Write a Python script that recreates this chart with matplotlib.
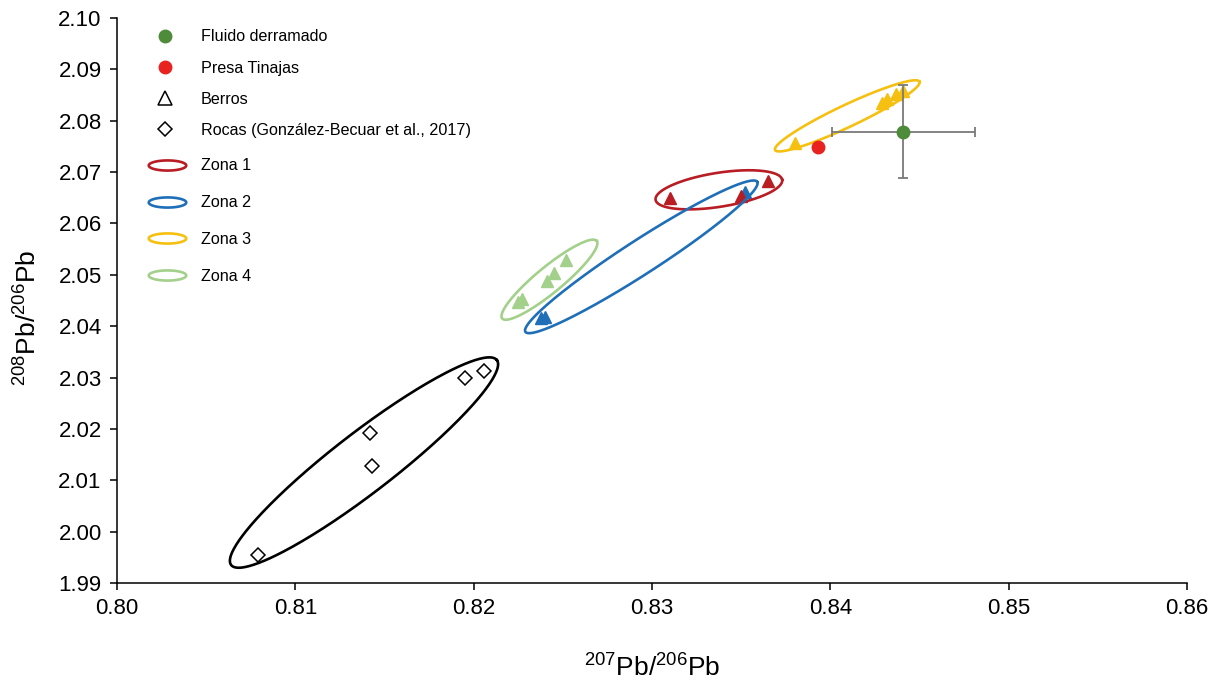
import numpy as np
import matplotlib
matplotlib.use("Agg")
import matplotlib.pyplot as plt
from matplotlib.path import Path
from matplotlib.lines import Line2D

plt.rcParams['font.family'] = ['Liberation Sans', 'DejaVu Sans']
plt.rcParams['mathtext.fontset'] = 'custom'
plt.rcParams['mathtext.rm'] = 'Liberation Sans'
plt.rcParams['mathtext.it'] = 'Liberation Sans:italic'
plt.rcParams['mathtext.default'] = 'regular'

# ---------------- data ----------------
rocas_x = [0.8079, 0.8142, 0.8143, 0.8195, 0.8206]
rocas_y = [1.9955, 2.0192, 2.0128, 2.0299, 2.0313]

zona1_x = [0.8310, 0.8350, 0.8365]
zona1_y = [2.0649, 2.0653, 2.0683]

zona2_x = [0.8238, 0.8240, 0.8352]
zona2_y = [2.0415, 2.0418, 2.0662]

zona3_x = [0.8380, 0.8429, 0.8432, 0.8437, 0.8441]
zona3_y = [2.0757, 2.0834, 2.0842, 2.0853, 2.0858]

zona4_x = [0.8225, 0.8227, 0.8241, 0.8245, 0.8252]
zona4_y = [2.0448, 2.0452, 2.0487, 2.0503, 2.0529]

fluido_x = [0.8441]
fluido_y = [2.0779]
fluido_xerr = [0.0040]
fluido_yerr = [0.0091]

presa_x = [0.8393]
presa_y = [2.0748]

# ellipse outlines: long-axis end points (data units) and half-width (pixels)
ell_rocas = [(0.8064, 1.9935), (0.8213, 2.0334)]
ell_z1 = [(0.8302, 2.0646), (0.8373, 2.0685)]
ell_z2 = [(0.8229, 2.0389), (0.8359, 2.0681)]
ell_z3 = [(0.8369, 2.0743), (0.8450, 2.0876)]
ell_z4 = [(0.8216, 2.0415), (0.8269, 2.0566)]
ell_halfwidth = {'rocas': 30, 'z1': 17, 'z2': 17, 'z3': 11, 'z4': 13}

xticks = [0.80, 0.81, 0.82, 0.83, 0.84, 0.85, 0.86]
yticks = [1.99, 2.00, 2.01, 2.02, 2.03, 2.04, 2.05, 2.06, 2.07, 2.08, 2.09, 2.10]

c_green_dark = '#4e8b3a'
c_red = '#e8231f'
c_z1 = '#b81d24'
c_z2 = '#1f6fb8'
c_z3 = '#f5c010'
c_z4 = '#a3d08b'

# ---------------- figure ----------------
fig = plt.figure(figsize=(12.19, 6.81), dpi=100)
ax = fig.add_axes([117 / 1219, 1 - 583 / 681, (1187 - 117) / 1219, (583 - 18) / 681])
ax.set_xlim(0.80, 0.86)
ax.set_ylim(1.99, 2.10)
ax.set_xticks(xticks)
ax.set_yticks(yticks)
ax.set_xticklabels([f"{v:.2f}" for v in xticks])
ax.set_yticklabels([f"{v:.2f}" for v in yticks])
for s in ['top', 'right']:
    ax.spines[s].set_visible(False)
for s in ['left', 'bottom']:
    ax.spines[s].set_linewidth(1.1)
ax.tick_params(direction='out', length=5, width=1.1, labelsize=16, pad=6)


def draw_ellipse(p1, p2, b_px, color, lw=1.9):
    T = ax.transData
    d1 = T.transform(p1)
    d2 = T.transform(p2)
    c = (d1 + d2) / 2
    u = (d2 - d1) / 2
    a = np.hypot(*u)
    u = u / a
    v = np.array([-u[1], u[0]])
    b = b_px * fig.dpi / 100
    t = np.linspace(0, 2 * np.pi, 300)
    pts = c + np.outer(a * np.cos(t), u) + np.outer(b * np.sin(t), v)
    dat = T.inverted().transform(pts)
    ax.plot(dat[:, 0], dat[:, 1], color=color, lw=lw, zorder=3)


ms_tri = 9
ax.plot(zona4_x, zona4_y, '^', color=c_z4, ms=ms_tri, ls='none', zorder=2)
ax.plot(zona2_x, zona2_y, '^', color=c_z2, ms=ms_tri, ls='none', zorder=2)
ax.plot(zona1_x, zona1_y, '^', color=c_z1, ms=ms_tri, ls='none', zorder=2)
ax.plot(zona3_x, zona3_y, '^', color=c_z3, ms=ms_tri, ls='none', zorder=2)
ax.plot(rocas_x, rocas_y, 'D', mfc='white', mec='black', mew=1.1, ms=7, ls='none', zorder=2)
ax.plot(presa_x, presa_y, 'o', color=c_red, ms=9, ls='none', zorder=4)
ax.errorbar(fluido_x, fluido_y, xerr=fluido_xerr, yerr=fluido_yerr, fmt='o',
            color=c_green_dark, ms=9, ecolor='#7a7a7a', elinewidth=1.3,
            capsize=3.5, capthick=1.3, zorder=4)

draw_ellipse(*ell_rocas, ell_halfwidth['rocas'], 'black')
draw_ellipse(*ell_z1, ell_halfwidth['z1'], c_z1)
draw_ellipse(*ell_z2, ell_halfwidth['z2'], c_z2)
draw_ellipse(*ell_z3, ell_halfwidth['z3'], c_z3)
draw_ellipse(*ell_z4, ell_halfwidth['z4'], c_z4)

ax.set_xlabel('$^{207}$Pb/$^{206}$Pb', fontsize=19)
ax.set_ylabel('$^{208}$Pb/$^{206}$Pb', fontsize=19)
ax.xaxis.set_label_coords(0.5, -0.15)
ax.xaxis.label.set_va('center')
ax.yaxis.set_label_coords(-0.083, 0.47)
ax.yaxis.label.set_va('center')

# ---------------- legends ----------------
t = np.linspace(0, 2 * np.pi, 100)
ell_marker = Path(np.column_stack([np.cos(t), 0.27 * np.sin(t)]), closed=True)

fs_leg = 11.6
h1 = [
    Line2D([], [], marker='o', color=c_green_dark, ls='none', ms=9),
    Line2D([], [], marker='o', color=c_red, ls='none', ms=9),
    Line2D([], [], marker='^', mfc='none', mec='black', mew=1.1, ls='none', ms=10),
    Line2D([], [], marker='D', mfc='none', mec='black', mew=1.1, ls='none', ms=7),
]
l1 = ['Fluido derramado', 'Presa Tinajas', 'Berros', 'Rocas (González-Becuar et al., 2017)']
leg1 = ax.legend(h1, l1, loc='upper left', bbox_to_anchor=(0.0238, 0.9912), frameon=False,
                 fontsize=fs_leg, labelspacing=1.0, handlelength=2.0, handletextpad=1.24,
                 borderaxespad=0.0)
ax.add_artist(leg1)

h2 = [Line2D([], [], marker=ell_marker, mfc='none', mec=c, mew=1.9, ls='none', ms=27)
      for c in [c_z1, c_z2, c_z3, c_z4]]
l2 = ['Zona 1', 'Zona 2', 'Zona 3', 'Zona 4']
leg2 = ax.legend(h2, l2, loc='upper left', bbox_to_anchor=(0.0207, 0.7628), frameon=False,
                 fontsize=fs_leg, labelspacing=1.35, handlelength=2.6, handletextpad=0.84,
                 borderaxespad=0.0)

fig.savefig('out.png', dpi=100)
